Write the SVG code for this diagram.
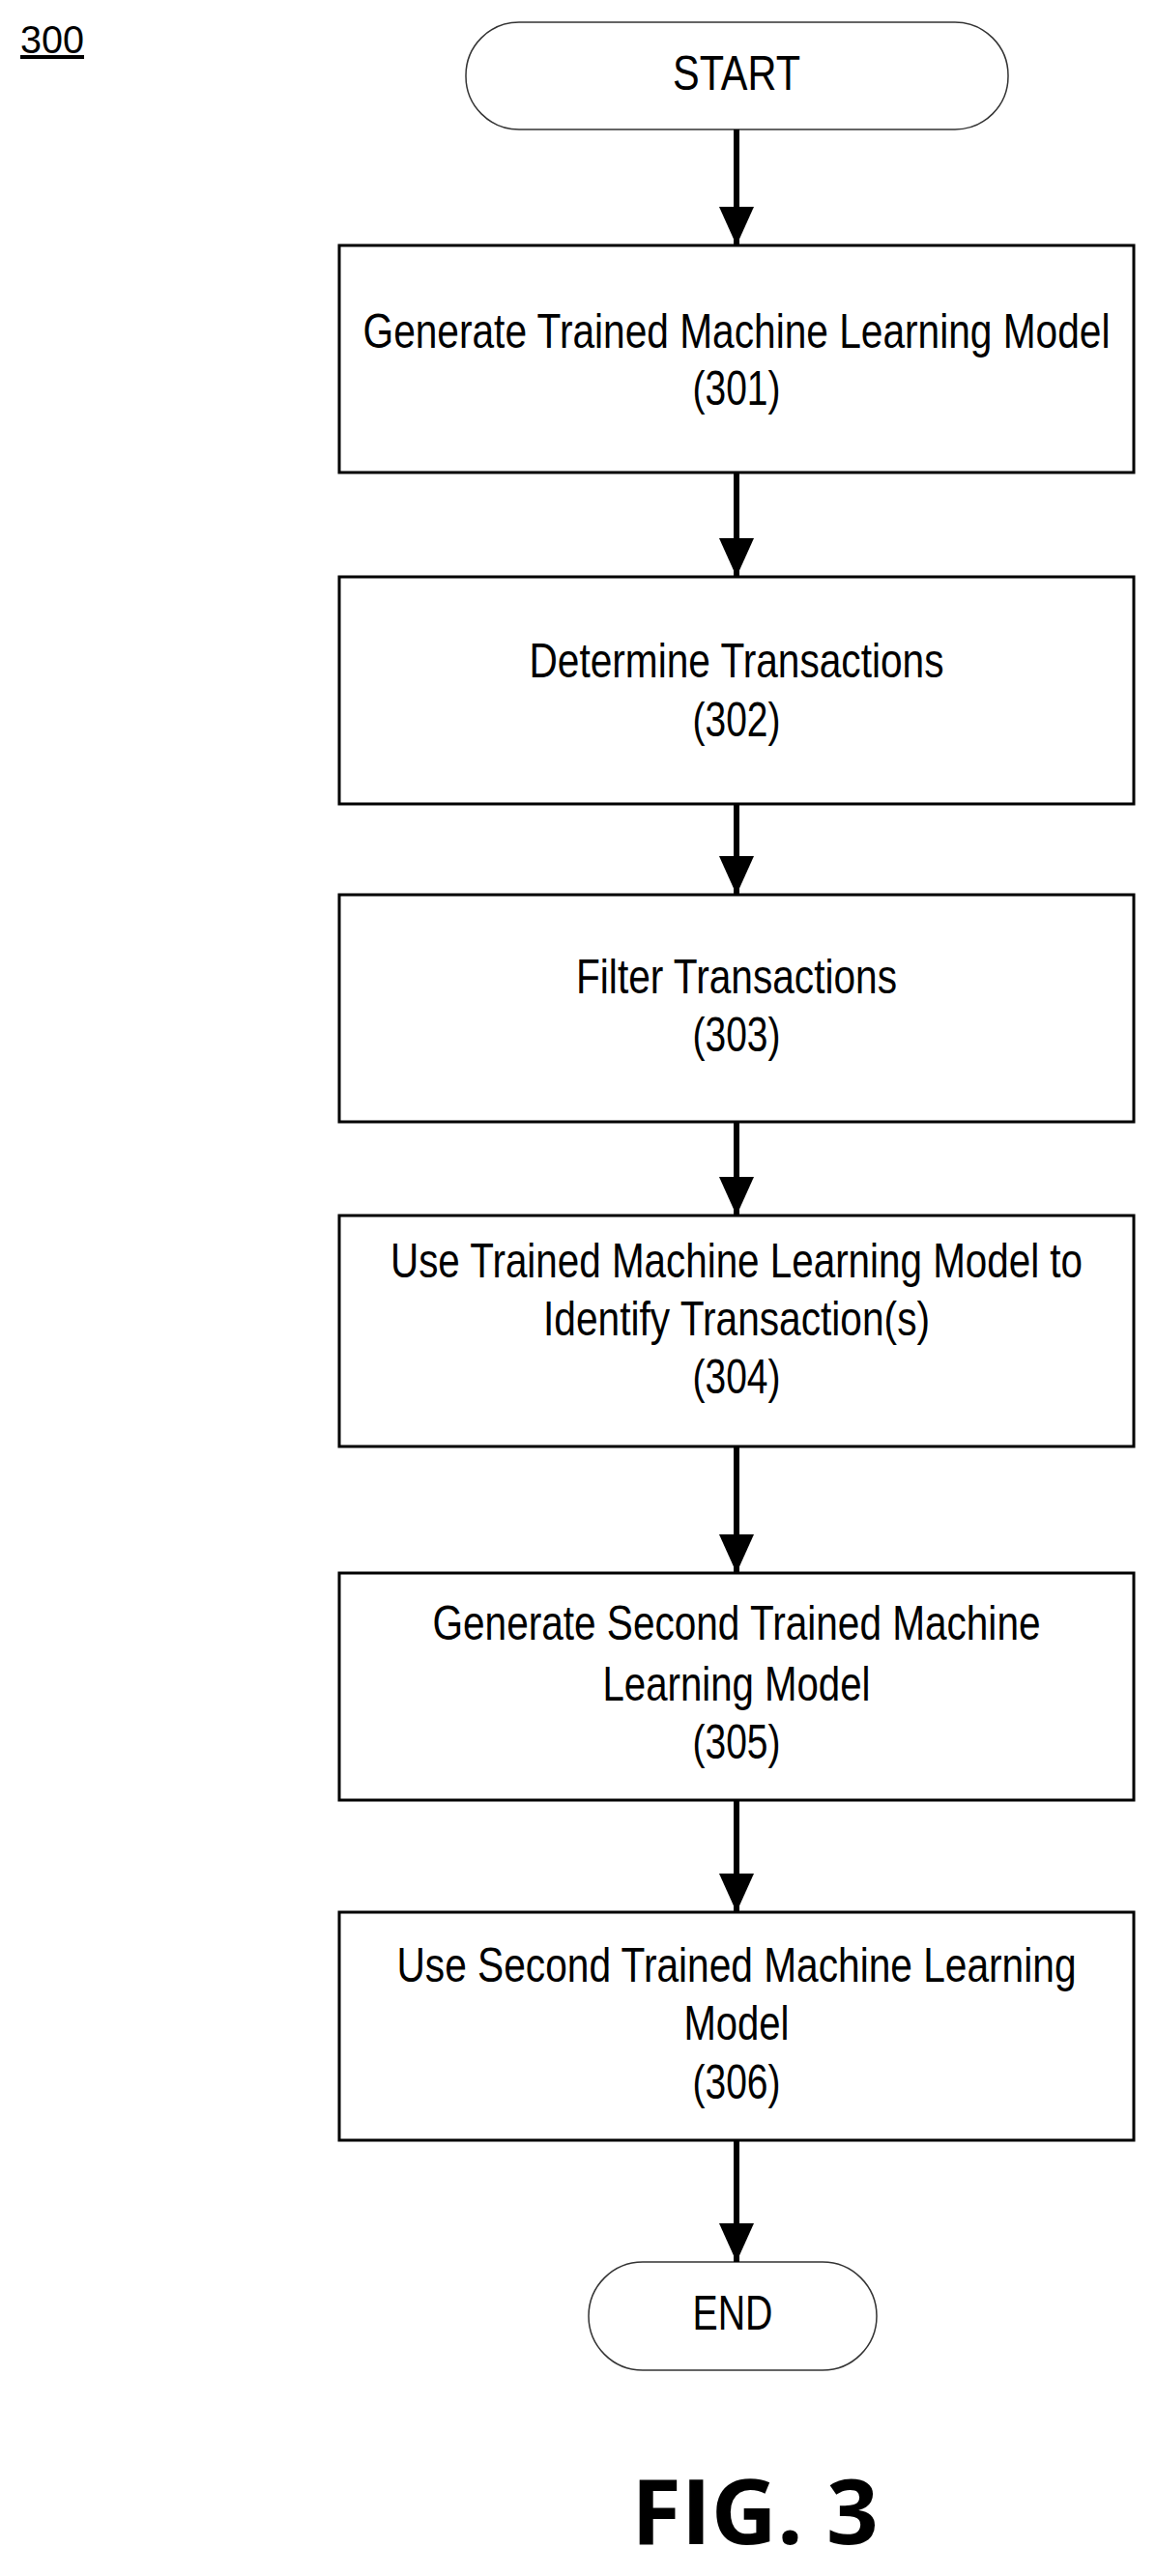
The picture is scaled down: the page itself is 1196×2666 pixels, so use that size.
<svg xmlns="http://www.w3.org/2000/svg" width="1196" height="2666" viewBox="0 0 1196 2666">
<style>
text{font-family:"Liberation Sans",Arial,sans-serif;font-size:50px;fill:#000;text-anchor:middle}
.box{fill:#fff;stroke:#000;stroke-width:3}
.pill{fill:#fff;stroke:#333;stroke-width:1.5}
.c{stroke:#000;stroke-width:6;fill:none}
</style>
<defs><marker id="ah" markerUnits="userSpaceOnUse" markerWidth="40" markerHeight="36" refX="40" refY="18" orient="auto"><path d="M0,0 L40,18 L0,36 Z" fill="#000"/></marker></defs>
<text x="21" y="55" style="text-anchor:start;font-size:40px;text-decoration:underline" textLength="66" lengthAdjust="spacingAndGlyphs">300</text>
<g id="start"><rect class="pill" x="482" y="23" width="561" height="111" rx="55"/><text x="762" y="93" textLength="132" lengthAdjust="spacingAndGlyphs">START</text></g>
<g id="n301"><rect class="box" x="351" y="254" width="822" height="235"/><text x="762" y="360" textLength="773" lengthAdjust="spacingAndGlyphs">Generate Trained Machine Learning Model</text><text x="762" y="419" textLength="91" lengthAdjust="spacingAndGlyphs">(301)</text></g>
<g id="n302"><rect class="box" x="351" y="597" width="822" height="235"/><text x="762" y="701" textLength="429" lengthAdjust="spacingAndGlyphs">Determine Transactions</text><text x="762" y="762" textLength="91" lengthAdjust="spacingAndGlyphs">(302)</text></g>
<g id="n303"><rect class="box" x="351" y="926" width="822" height="235"/><text x="762" y="1028" textLength="332" lengthAdjust="spacingAndGlyphs">Filter Transactions</text><text x="762" y="1088" textLength="91" lengthAdjust="spacingAndGlyphs">(303)</text></g>
<g id="n304"><rect class="box" x="351" y="1258" width="822" height="239"/><text x="762" y="1322" textLength="716" lengthAdjust="spacingAndGlyphs">Use Trained Machine Learning Model to</text><text x="762" y="1382" textLength="400" lengthAdjust="spacingAndGlyphs">Identify Transaction(s)</text><text x="762" y="1442" textLength="91" lengthAdjust="spacingAndGlyphs">(304)</text></g>
<g id="n305"><rect class="box" x="351" y="1628" width="822" height="235"/><text x="762" y="1697" textLength="629" lengthAdjust="spacingAndGlyphs">Generate Second Trained Machine</text><text x="762" y="1760" textLength="277" lengthAdjust="spacingAndGlyphs">Learning Model</text><text x="762" y="1820" textLength="91" lengthAdjust="spacingAndGlyphs">(305)</text></g>
<g id="n306"><rect class="box" x="351" y="1979" width="822" height="236"/><text x="762" y="2051" textLength="703" lengthAdjust="spacingAndGlyphs">Use Second Trained Machine Learning</text><text x="762" y="2111" textLength="109" lengthAdjust="spacingAndGlyphs">Model</text><text x="762" y="2172" textLength="91" lengthAdjust="spacingAndGlyphs">(306)</text></g>
<g id="end"><rect class="pill" x="609" y="2341" width="298" height="112" rx="56"/><text x="758" y="2411" textLength="83" lengthAdjust="spacingAndGlyphs">END</text></g>
<g id="connectors">
<line class="c" x1="762" y1="134" x2="762" y2="254" marker-end="url(#ah)"/>
<line class="c" x1="762" y1="489" x2="762" y2="597" marker-end="url(#ah)"/>
<line class="c" x1="762" y1="832" x2="762" y2="926" marker-end="url(#ah)"/>
<line class="c" x1="762" y1="1161" x2="762" y2="1258" marker-end="url(#ah)"/>
<line class="c" x1="762" y1="1497" x2="762" y2="1628" marker-end="url(#ah)"/>
<line class="c" x1="762" y1="1863" x2="762" y2="1979" marker-end="url(#ah)"/>
<line class="c" x1="762" y1="2215" x2="762" y2="2341" marker-end="url(#ah)"/>
</g>
<text x="781" y="2633" style="font-family:'Open Sans','Noto Sans',sans-serif;font-weight:bold;font-size:94px">FIG. 3</text>
</svg>
